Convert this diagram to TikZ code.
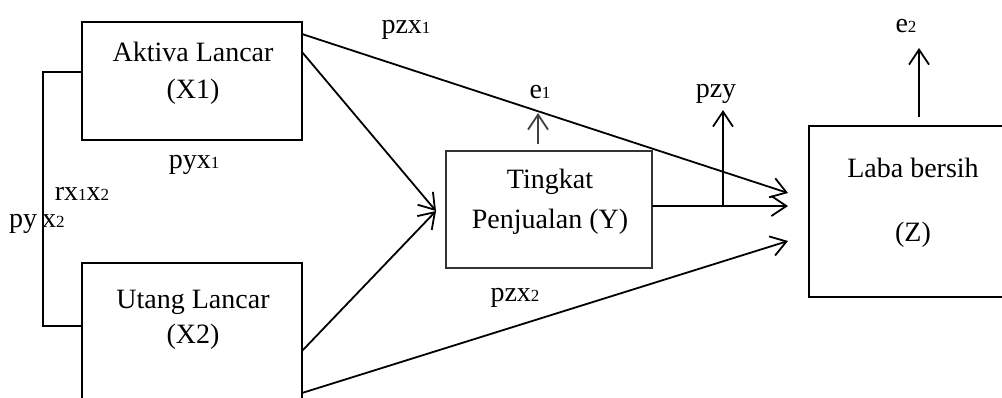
\documentclass[tikz,border=0pt]{standalone}
\usepackage{fontspec}
\setmainfont{Liberation Serif}
\usetikzlibrary{arrows.meta,calc}
\newcommand\sbs[1]{{\fontsize{17}{17}\selectfont #1}}
\begin{document}
\begin{tikzpicture}[x=1pt,y=-1pt,
  box/.style={draw,line width=1.2pt,inner sep=0pt,outer sep=0pt},
  lbl/.style={anchor=base,inner sep=0pt,font=\fontsize{28}{28}\selectfont},
  conn/.style={line width=1.8pt},
  arr/.style={conn,-{Straight Barb[length=15pt,width=20pt]}}]
\useasboundingbox (0,0) rectangle (1002,397);
% boxes
\node[box,minimum width=220pt,minimum height=118pt] (x1) at (192,81) {};
\node[box,minimum width=220pt,minimum height=142pt] (x2) at (192,334) {};
\node[box,draw=black!80,minimum width=206pt,minimum height=117pt] (y) at (549,209.5) {};
\node[box,minimum width=197pt,minimum height=171pt] (z) at (907.5,211.5) {};
% box texts
\node[lbl] (tx1a) at (193,61) {Aktiva Lancar};
\node[lbl] (tx1b) at (193,98) {(X1)};
\node[lbl] (tx2a) at (193,308) {Utang Lancar};
\node[lbl] (tx2b) at (193,343) {(X2)};
\node[lbl] (tya) at (550,188) {Tingkat};
\node[lbl] (tyb) at (550,228) {Penjualan (Y)};
\node[lbl] (tza) at (913,177) {Laba bersih};
\node[lbl] (tzb) at (913,241) {(Z)};
% connectors
\draw[conn] ([yshift=9pt]x1.west) -- ++(-39,0) |- ([yshift=8pt]x2.west);
\draw[arr] ([yshift=-12pt]x1.north east) -- ([shift={(-21pt,18.5pt)}]z.west);
\draw[arr] ([yshift=-30pt]x1.north east) -- ([shift={(-10pt,-1.5pt)}]y.west);
\draw[arr] ([yshift=-17pt]x2.east) -- ([shift={(-10pt,-1.5pt)}]y.west);
\draw[arr] ([yshift=-59pt]x2.east) -- ([shift={(-21pt,-29.5pt)}]z.west);
\draw[arr] ([yshift=3.5pt]y.east) -- coordinate[pos=0.522] (pf) ([shift={(-21pt,5.5pt)}]z.west);
\draw[arr] (pf) -- ++(0,-96);
\draw[arr,draw=black!75] ([shift={(-11pt,7pt)}]y.north) -- ++(0,-31);
\draw[arr] ([shift={(11.5pt,9pt)}]z.north) -- ++(0,-69);
% path labels
\node[lbl] (lpzx1) at (406,33) {pzx\sbs{1}};
\node[lbl] (le1) at (540,98) {e\sbs{1}};
\node[lbl] (lpzy) at (716,97) {pzy};
\node[lbl] (le2) at (906,32) {e\sbs{2}};
\node[lbl] (lpyx1) at (194,168) {pyx\sbs{1}};
\node[lbl] (lrx) at (82,200) {rx\sbs{1}x\sbs{2}};
\node[lbl,anchor=base west] (lpy) at (9,227) {py};
\node[lbl,anchor=base west] (lx2) at (42,227) {x\sbs{2}};
\node[lbl] (lpzx2) at (515,301) {pzx\sbs{2}};
\end{tikzpicture}
\end{document}
